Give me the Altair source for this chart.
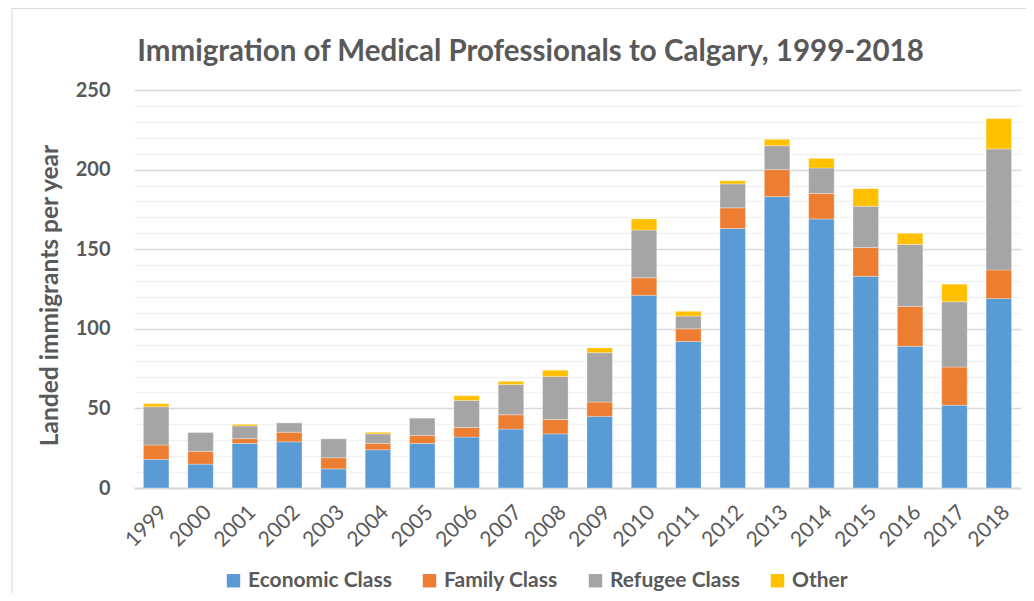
import altair as alt
import pandas as pd

years = [str(y) for y in range(1999, 2019)]
economic = [18, 15, 28, 29, 12, 24, 28, 32, 37, 34, 45, 121, 92, 163, 183, 169, 133, 89, 52, 119]
family = [9, 8, 3, 6, 7, 4, 5, 6, 9, 9, 9, 11, 8, 13, 17, 16, 18, 25, 24, 18]
refugee = [24, 12, 8, 6, 12, 6, 11, 17, 19, 27, 31, 30, 8, 15, 15, 16, 26, 39, 41, 76]
other = [2, 0, 1, 0, 0, 1, 0, 3, 2, 4, 3, 7, 3, 2, 4, 6, 11, 7, 11, 19]
categories = ["Economic Class", "Family Class", "Refugee Class", "Other"]
colors = ["#5B9BD5", "#ED7D31", "#A5A5A5", "#FFC000"]

rows = []
for i, yr in enumerate(years):
    for k, (cat, vals) in enumerate(zip(categories, [economic, family, refugee, other])):
        rows.append({"year": yr, "category": cat, "value": vals[i], "order": k})
df = pd.DataFrame(rows)

FONT = "Lato"
TXT = "#595959"

bars = alt.Chart(df).mark_bar(stroke="white", strokeWidth=0.6, strokeOpacity=0.5).encode(
    x=alt.X("year:N", title=None, sort=years,
            scale=alt.Scale(paddingInner=0.425, paddingOuter=0.2125),
            axis=alt.Axis(labelAngle=-45, labelFontSize=21, labelColor=TXT, labelFont=FONT,
                          ticks=False, domainColor="#D9D9D9", domainWidth=2, labelPadding=13)),
    y=alt.Y("value:Q", stack="zero", scale=alt.Scale(domain=[0, 250], nice=False),
            title="Landed immigrants per year",
            axis=alt.Axis(values=list(range(0, 251, 10)),
                          labelExpr="datum.value % 50 === 0 ? datum.label : ''",
                          gridColor=alt.condition("datum.value % 50 === 0", alt.value("#D9D9D9"), alt.value("#F2F2F2")),
                          gridWidth=1.3,
                          domain=False, ticks=False, labelPadding=24,
                          labelFontSize=20, labelFont=FONT, labelFontWeight="bold", labelColor=TXT,
                          titleFontSize=24.5, titleFont=FONT, titleFontWeight="bold", titleColor=TXT,
                          titleX=-84, titleY=205, titleAngle=-90, titleAlign="center", titleBaseline="middle")),
    color=alt.Color("category:N", scale=alt.Scale(domain=categories, range=colors),
                    legend=alt.Legend(title=None, orient="none", direction="horizontal",
                                      legendX=89, legendY=480, symbolType="square", symbolSize=180,
                                      symbolStrokeWidth=0, labelFontSize=21, labelFont=FONT,
                                      labelFontWeight="bold", labelColor=TXT, columnPadding=27,
                                      labelOffset=4, padding=0)),
    order=alt.Order("order:Q", sort="ascending"),
)

frame = alt.Chart(pd.DataFrame({"a": [0]})).mark_rect(fillOpacity=0, stroke="#D9D9D9", strokeWidth=1).encode(
    x=alt.value(-122), x2=alt.value(900), y=alt.value(-81.5), y2=alt.value(530)
)

chart = alt.layer(frame, bars).properties(
    width=887, height=398,
    title=alt.TitleParams("Immigration of Medical Professionals to Calgary, 1999-2018",
                          fontSize=29.5, font=FONT, fontWeight="bold", color=TXT,
                          anchor="middle", dx=-47, offset=0, dy=59),
    autosize=alt.AutoSizeParams(type="none"),
    padding={"left": 126, "top": 82, "right": 5, "bottom": 105},
).configure_view(stroke=None)

chart.save("out.html", embed_options={"renderer": "svg", "actions": False})
